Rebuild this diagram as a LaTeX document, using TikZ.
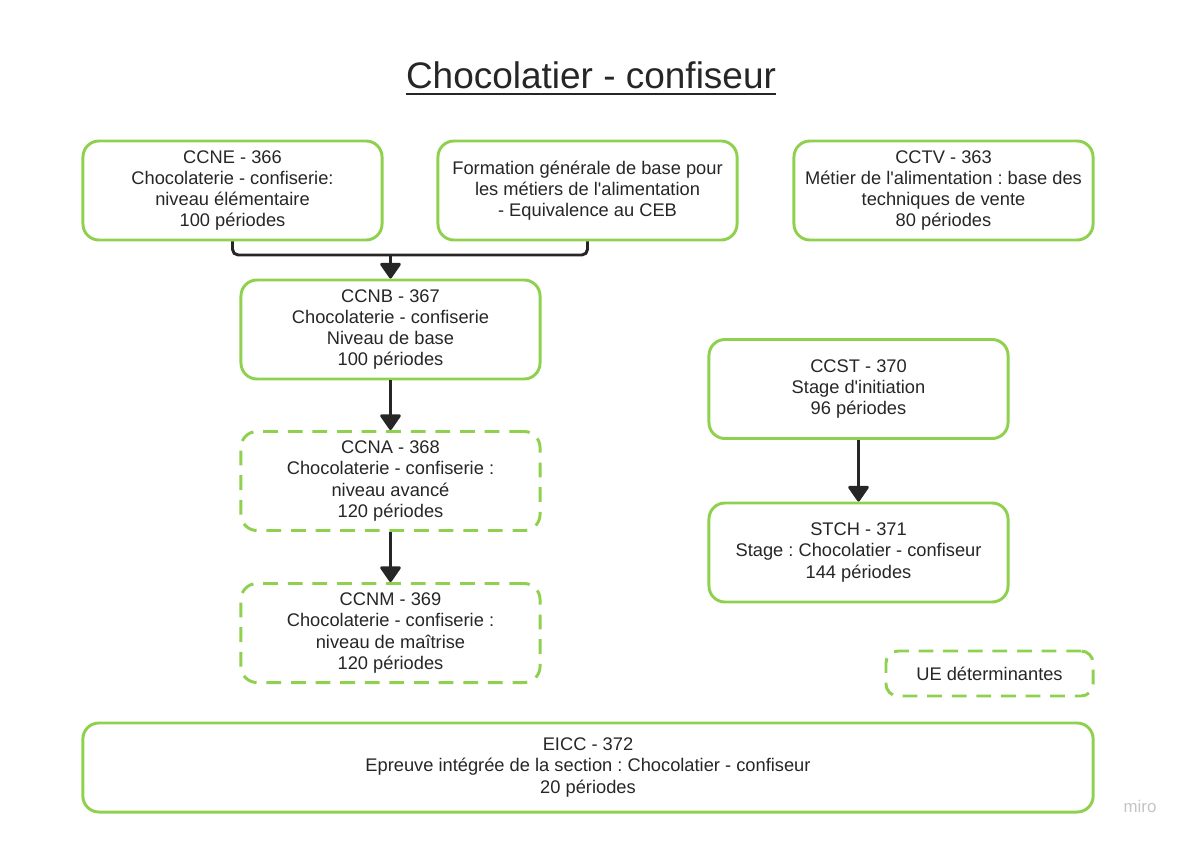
\documentclass[tikz,border=0pt]{standalone}
\usepackage{fontspec}
\setmainfont{Liberation Sans}[Ligatures=TeXOff]
\usetikzlibrary{positioning,arrows.meta}
\definecolor{ueGreen}{HTML}{8FD14F}
\definecolor{inkGrey}{HTML}{262626}
\definecolor{markGrey}{HTML}{C4C4C4}
\frenchspacing

\begin{document}
\begin{tikzpicture}[x=0.025cm,y=-0.025cm,
        ue/.style={draw=ueGreen,line width=2.1pt,rounded corners=0.4cm,
            minimum width=7.475cm,minimum height=2.475cm,align=center,
            text=inkGrey,font=\fontsize{13}{15}\selectfont},
        uedet/.style={ue,dash pattern=on 10.5pt off 7pt},
        link/.style={draw=inkGrey,line width=2.1pt,line join=round,
            -{Triangle[width=16pt,length=12pt,round]}}
        ]
        \useasboundingbox (0,0) rectangle (1187,841);
        % Title
        \node (title) at (591,75) [inner sep=0pt,text=inkGrey,font=\fontsize{26.3}{30}\selectfont]
            {Chocolatier - confiseur};
        \draw [inkGrey,line width=1.6pt] ([yshift=-4pt]title.base west) -- ([yshift=-4pt]title.base east);
        % First row
        \node (ccne) at (232.5,190.5) [ue]
            {CCNE - 366\\Chocolaterie - confiserie:\\niveau élémentaire\\100 périodes};
        \node (fgb) at (587.5,190.5) [ue]
            {Formation générale de base pour\\les métiers de l'alimentation\\- Equivalence au CEB};
        \node (cctv) at (943.5,190.5) [ue]
            {CCTV - 363\\Métier de l'alimentation : base des\\techniques de vente\\80 périodes};
        % Left column
        \node (ccnb) at (390.5,329.5) [ue]
            {CCNB - 367\\Chocolaterie - confiserie\\Niveau de base\\100 périodes};
        \node (ccna) at (390.5,481) [uedet]
            {CCNA - 368\\Chocolaterie - confiserie :\\niveau avancé\\120 périodes};
        \node (ccnm) at (390.5,633) [uedet]
            {CCNM - 369\\Chocolaterie - confiserie :\\niveau de maîtrise\\120 périodes};
        % Right column
        \node (ccst) at (858.5,389) [ue]
            {CCST - 370\\Stage d'initiation\\96 périodes};
        \node (stch) at (858.5,552.5) [ue]
            {STCH - 371\\Stage : Chocolatier - confiseur\\144 périodes};
        %% Legend and final test
        \node (legend) at (989.5,673.5) [uedet,minimum width=5.175cm,minimum height=1.125cm,
            rounded corners=0.3cm] {UE déterminantes};
        \node (eicc) at (588,767.5) [ue,minimum width=25.25cm,minimum height=2.225cm]
            {EICC - 372\\Epreuve intégrée de la section : Chocolatier - confiseur\\20 périodes};
        \node (miro) at (1140,806) [text=markGrey,font=\fontsize{12}{14}\selectfont] {miro};
        % Connectors
        \coordinate (join) at (ccnb.north |- 0,255);
        \draw [inkGrey,line width=2.1pt,rounded corners=4pt]
            (ccne.south) -- (ccne.south |- join) -| (fgb.south)
        ;
        \draw [link] (join) -- (ccnb.north);
        \draw [link] (ccnb) -- (ccna);
        \draw [link] (ccna) -- (ccnm);
        \draw [link] (ccst) -- (stch);

    \end{tikzpicture}
\end{document}
